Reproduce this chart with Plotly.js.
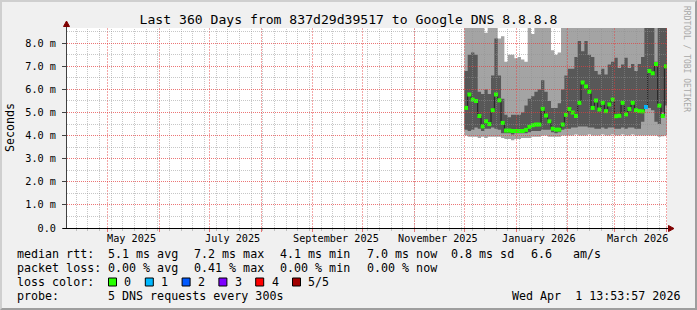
<!DOCTYPE html>
<html><head><meta charset="utf-8">
<script src="https://cdn.plot.ly/plotly-3.0.1.min.js"></script>
<style>
html,body{margin:0;padding:0;background:#f0f0f0;}
#wrap{position:relative;width:697px;height:310px;overflow:hidden;}
#chart{width:697px;height:310px;}
#frame{position:absolute;left:0;top:0;width:697px;height:310px;box-sizing:border-box;border-top:2px solid #cfcfcf;border-left:2px solid #cfcfcf;border-right:2px solid #9e9e9e;border-bottom:2px solid #9e9e9e;pointer-events:none;}
</style></head><body>
<div id="wrap"><div id="chart"></div><div id="frame"></div></div>
<script>
// ---- data (ms) ----
const startTime = '2025-04-06 13:53:57';
const endTime = '2026-04-01 13:53:57';
const binStarts = [
 '2025-12-01','2025-12-03','2025-12-05','2025-12-07','2025-12-09','2025-12-11','2025-12-13','2025-12-15',
 '2025-12-17','2025-12-19','2025-12-21','2025-12-23','2025-12-25','2025-12-27','2025-12-29','2025-12-31',
 '2026-01-02','2026-01-04','2026-01-06','2026-01-08','2026-01-10','2026-01-12','2026-01-14','2026-01-16',
 '2026-01-18','2026-01-20','2026-01-22','2026-01-24','2026-01-26','2026-01-28','2026-01-30',
 '2026-02-01','2026-02-03','2026-02-05','2026-02-07','2026-02-09','2026-02-11','2026-02-13','2026-02-15',
 '2026-02-17','2026-02-19','2026-02-21','2026-02-23','2026-02-25','2026-02-27',
 '2026-03-01','2026-03-03','2026-03-05','2026-03-07','2026-03-09','2026-03-11','2026-03-13','2026-03-15',
 '2026-03-17','2026-03-19','2026-03-21','2026-03-23','2026-03-25','2026-03-27','2026-03-29','2026-03-31'
];
const pingMin = [
 4.0,3.95,3.95,3.95,3.9,3.95,3.9,3.95,3.95,3.95,3.95,3.9,
 3.85,3.85,3.8,3.85,3.85,3.9,3.9,3.9,3.95,3.95,3.95,
 4.0,4.0,3.95,3.95,3.95,3.95,4.0,4.0,
 4.0,4.0,4.05,4.0,4.0,4.0,4.05,4.0,4.0,4.0,4.05,4.0,4.0,4.05,
 4.0,4.0,4.05,4.0,4.0,4.05,4.0,4.0,4.0,4.0,4.0,4.0,4.0,3.95,3.97,4.0
];
const pingLow = [
 4.25,4.2,4.25,4.35,4.3,4.2,4.3,4.3,4.35,4.3,4.25,4.1,
 4.1,4.1,4.05,4.1,4.1,4.1,4.1,4.15,4.2,4.2,4.2,
 4.25,4.25,4.25,4.15,4.1,4.15,4.25,4.3,
 4.3,4.35,4.35,4.4,4.4,4.4,4.35,4.35,4.3,4.3,4.35,4.3,4.35,4.35,
 4.3,4.3,4.35,4.3,4.35,4.35,4.3,4.3,4.6,5.2,5.2,5.1,4.6,4.5,5.0,5.3
];
const median = [
 5.2,5.78,5.56,5.5,4.85,4.4,4.62,4.5,5.1,5.78,5.53,4.55,
 4.22,4.22,4.2,4.2,4.2,4.2,4.25,4.38,4.45,4.48,4.48,
 5.16,4.87,4.62,4.3,4.26,4.26,4.48,4.9,
 5.15,5.0,4.85,5.42,6.3,6.13,5.9,5.2,5.52,5.13,5.42,5.06,5.35,5.56,
 4.84,4.86,5.42,4.92,5.15,5.42,5.1,5.06,5.05,5.24,6.8,6.7,7.1,5.3,4.85,7.0
];
const pingHigh = [
 6.8,7.5,7.6,7.5,5.9,5.8,6.0,5.8,6.6,8.2,6.6,5.6,
 4.9,4.8,4.9,4.9,4.9,5.0,5.3,5.6,5.7,5.9,6.0,
 6.4,5.9,5.5,5.2,5.2,5.4,6.0,6.6,
 6.9,6.9,7.4,8.1,7.65,8.1,7.5,7.4,6.8,6.65,6.9,6.65,7.08,7.2,
 7.37,6.93,7.08,7.37,6.93,7.1,6.8,7.1,7.4,9.5,9.5,9.5,7.2,9.5,9.5,9.5
];
const pingMax = [
 9.5,9.5,9.5,9.5,9.5,9.5,8.45,9.5,9.5,9.5,8.2,8.3,
 7.2,7.5,7.5,7.35,7.4,7.3,7.2,9.5,8.4,9.5,9.5,
 9.5,9.5,9.5,7.7,7.5,7.6,9.5,9.5,
 9.5,9.5,9.5,9.5,9.5,9.5,9.5,9.5,9.5,9.5,9.5,9.5,9.5,9.5,
 9.5,9.5,9.5,9.5,9.5,9.5,9.5,9.5,9.5,9.5,9.5,9.5,9.5,9.5,9.5,9.5
];
const lossPings = [
 0,0,0,0,0,0,0,0,0,0,0,0, 0,0,0,0,0,0,0,0,0,0,0, 0,0,0,0,0,0,0,0,
 0,0,0,0,0,0,0,0,0,0,0,0,0,0, 0,0,0,0,0,0,0,0,0,1,0,0,0,0,0,0
];
const lossColors = ['#26ff00','#00b8ff','#0059ff','#7e00ff','#ff0000','#a10000'];
const lossLabels = ['0','1','2','3','4','5/5'];
const yTickVals = [0,1,2,3,4,5,6,7,8];
const yTickText = ['0.0','1.0 m','2.0 m','3.0 m','4.0 m','5.0 m','6.0 m','7.0 m','8.0 m'];
const monthLabels = ['May 2025','July 2025','September 2025','November 2025','January 2026','March 2026'];
const monthLabelDates = ['2025-05-15','2025-07-15','2025-09-15','2025-11-15','2026-01-15','2026-03-15'];
const monthGridDates = ['2025-05-01','2025-06-01','2025-07-01','2025-08-01','2025-09-01','2025-10-01',
  '2025-11-01','2025-12-01','2026-01-01','2026-02-01','2026-03-01','2026-04-01'];
const title = 'Last 360 Days from 837d29d39517 to Google DNS 8.8.8.8';
const rttRow = ['median rtt:','5.1 ms avg','7.2 ms max','4.1 ms min','7.0 ms now','0.8 ms sd','6.6','am/s'];
const lossRow = ['packet loss:','0.00 % avg','0.41 % max','0.00 % min','0.00 % now'];
const probeRow = ['probe:','5 DNS requests every 300s'];
const stamp = 'Wed Apr\u00a0 1 13:53:57 2026';

// ---- geometry ----
const MONO = 'DejaVu Sans Mono, monospace';
const PL = 67, PT = 28, PW = 600, PH = 200, YMAX = 8.66;
const px = x => (x - PL) / PW;
const py = y => (PT + PH - y) / PH;
const DAY = 86400000;
const ext = a => a.concat([a[a.length - 1]]);
const xs = binStarts.concat([endTime]);
const centers = binStarts.map(d => new Date(d + 'T00:00:00Z').getTime() + DAY);
const T0 = new Date('2025-04-06T13:53:57Z').getTime();
const T1 = new Date('2026-04-01T13:53:57Z').getTime();
const tFrac = t => (Math.floor(PL + (t - T0) / (T1 - T0) * PW) + 0.5 - PL) / PW;
const vFrac = v => (PT + PH - (Math.floor(PT + PH - v / YMAX * PH) + 0.5)) / PH;

const traces = [
  {x: xs, y: ext(pingMin), mode: 'lines', line: {width: 0, shape: 'hv'}, hoverinfo: 'skip'},
  {x: xs, y: ext(pingMax), mode: 'lines', line: {width: 0, shape: 'hv'}, fill: 'tonexty', fillcolor: '#a4a4a4', hoverinfo: 'skip'},
  {x: xs, y: ext(pingLow), mode: 'lines', line: {width: 0, shape: 'hv'}, hoverinfo: 'skip'},
  {x: xs, y: ext(pingHigh), mode: 'lines', line: {width: 0, shape: 'hv'}, fill: 'tonexty', fillcolor: '#585858', hoverinfo: 'skip'},
  {x: xs, y: ext(median), mode: 'lines', line: {width: 1, color: '#202020', shape: 'hv'}, hoverinfo: 'skip'},
  {x: centers, y: median, mode: 'markers', marker: {symbol: 'square', size: 4, color: lossPings.map(l => lossColors[l]), line: {width: 0}}, hoverinfo: 'skip'}
];

// ---- grid drawn above the data (as rrdtool does) ----
const MGRID = 'rgba(228,60,60,0.7)';
const MGRIDV = 'rgba(228,60,60,0.45)';
const GRID = 'rgba(143,143,143,0.5)';
const shapes = [];
const vline = (t, c, d) => { const f = tFrac(t); shapes.push({type: 'line', xref: 'paper', yref: 'paper', x0: f, x1: f, y0: 0, y1: 1, layer: 'above', line: {color: c, width: 1, dash: d}}); };
const hline = (v, c) => { const f = vFrac(v); shapes.push({type: 'line', xref: 'paper', yref: 'paper', x0: 0, x1: 1, y0: f, y1: f, layer: 'above', line: {color: c, width: 1, dash: '1px,1px'}}); };
for (let t = new Date('2025-04-12T00:00:00Z').getTime(); t < T1; t += 7 * DAY) vline(t, GRID, '1px,1px');
monthGridDates.forEach(d => vline(new Date(d + 'T00:00:00Z').getTime(), MGRIDV, '2px,1px'));
for (let v = 0.5; v < YMAX; v += 1) hline(v, GRID);
for (let v = 1; v < YMAX; v += 1) hline(v, MGRID);
// axes and arrows
shapes.push({type: 'line', xref: 'paper', yref: 'paper', x0: px(66.5), x1: px(66.5), y0: py(228.5), y1: py(25), layer: 'above', line: {color: '#404040', width: 1}});
shapes.push({type: 'line', xref: 'paper', yref: 'paper', x0: px(63), x1: px(670), y0: py(228.5), y1: py(228.5), layer: 'above', line: {color: '#000', width: 1}});
shapes.push({type: 'path', xref: 'paper', yref: 'paper', layer: 'above',
  path: `M ${px(63.5)} ${py(26.5)} L ${px(66.5)} ${py(21)} L ${px(69.5)} ${py(26.5)} Z`, fillcolor: '#7f0000', line: {color: '#7f0000', width: 1}});
shapes.push({type: 'path', xref: 'paper', yref: 'paper', layer: 'above',
  path: `M ${px(668.5)} ${py(225.5)} L ${px(674)} ${py(228.5)} L ${px(668.5)} ${py(231.5)} Z`, fillcolor: '#7f0000', line: {color: '#7f0000', width: 1}});

// ---- texts ----
const ann = [];
const txt = (x, y, text, opts) => ann.push(Object.assign({xref: 'paper', yref: 'paper', x: px(x), y: py(y), text: text,
  showarrow: false, xanchor: 'left', yanchor: 'middle', borderpad: 0, font: {family: MONO, size: 11.66, color: '#000'}}, opts || {}));
monthLabels.forEach((l, i) => ann.push({xref: 'x', yref: 'paper', x: monthLabelDates[i], y: py(238), text: l, showarrow: false,
  xanchor: 'center', yanchor: 'middle', borderpad: 0, font: {family: MONO, size: 10.2, color: '#000'}}));
const rttX = [16, 107.3, 193.3, 279.3, 365.7, 450, 530, 572.3];
rttRow.forEach((s, i) => txt(rttX[i], 254, s));
lossRow.forEach((s, i) => txt(rttX[i], 268, s));
txt(16, 282, 'loss color:');
lossLabels.forEach((s, i) => {
  const bx = 108.5 + i * 36.8;
  shapes.push({type: 'rect', xref: 'paper', yref: 'paper', x0: px(bx), x1: px(bx + 8), y0: py(286), y1: py(278),
    fillcolor: lossColors[i], line: {color: '#000', width: 1}, layer: 'above'});
  txt(bx + 14.8, 282, s);
});
txt(16, 296, probeRow[0]);
txt(107.3, 296, probeRow[1]);
txt(681, 296, stamp, {xanchor: 'right'});
txt(10, 128, 'Seconds', {textangle: -90, xanchor: 'center'});
txt(687, 59, 'RRDTOOL / TOBI OETIKER', {textangle: 90, xanchor: 'center', font: {family: MONO, size: 8, color: '#a8a8a8'}});

const layout = {
  width: 697, height: 310,
  margin: {l: PL, r: 697 - PL - PW, t: PT, b: 310 - PT - PH, pad: 0},
  paper_bgcolor: '#f0f0f0', plot_bgcolor: '#ffffff',
  showlegend: false,
  title: {text: title, font: {family: MONO, size: 13.1, color: '#000'}, x: 0.5, xref: 'container', xanchor: 'center',
    y: 1 - 19 / 310, yref: 'container', yanchor: 'middle'},
  xaxis: {type: 'date', range: [startTime, endTime], showgrid: false, zeroline: false, showline: false,
    showticklabels: false, tick0: '2025-05-01', dtick: 'M1', ticks: 'outside', ticklen: 3, tickcolor: MGRID,
    minor: {tick0: '2025-04-12', dtick: 7 * DAY, ticks: 'outside', ticklen: 2, tickcolor: GRID, showgrid: false},
    fixedrange: true},
  yaxis: {range: [0, YMAX], tickvals: yTickVals, ticktext: yTickText, showgrid: false, zeroline: false, showline: false,
    ticks: 'outside', ticklen: 4, tickcolor: '#404040', ticklabelstandoff: 4,
    tickfont: {family: MONO, size: 10.2, color: '#000'}, fixedrange: true},
  shapes: shapes,
  annotations: ann
};
Plotly.newPlot('chart', traces, layout, {staticPlot: true, displayModeBar: false});
</script>
</body></html>
